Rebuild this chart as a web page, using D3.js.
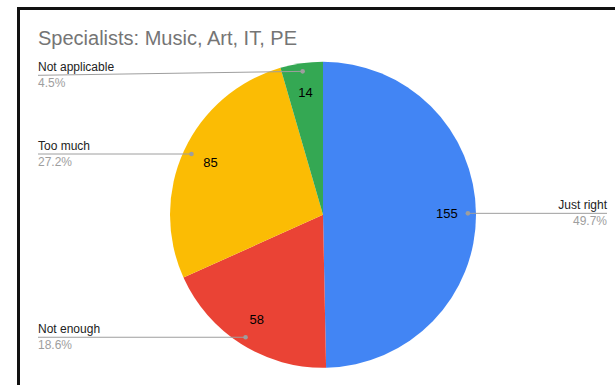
<!DOCTYPE html>
<html>
<head>
<meta charset="utf-8">
<script src="https://cdn.jsdelivr.net/npm/d3@7"></script>
<style>
  html, body { margin: 0; padding: 0; background: #fff; }
  svg { display: block; font-family: Arial, "Liberation Sans", sans-serif; }
</style>
</head>
<body>
<svg id="chart" width="615" height="385"></svg>
<script>
// Survey responses for specialist subjects, in clockwise order from 12 o'clock
const categories = ["Just right", "Not enough", "Too much", "Not applicable"];
const counts = [155, 58, 85, 14];
const sliceColors = ["#4285f4", "#ea4335", "#fbbc04", "#34a853"];
const chartTitle = "Specialists: Music, Art, IT, PE";

const W = 615, H = 385;
const cx = 323, cy = 214.8, R = 153;
const svg = d3.select("#chart");

// Frame around the chart card
svg.append("rect")
  .attr("x", 18.5).attr("y", 8.5)
  .attr("width", W + 20).attr("height", H + 20)
  .attr("fill", "#fff").attr("stroke", "#111").attr("stroke-width", 3);

svg.append("text")
  .attr("x", 38).attr("y", 45)
  .attr("font-size", 20).attr("fill", "#757575")
  .text(chartTitle);

const data = categories.map((c, i) => ({ name: c, value: counts[i], color: sliceColors[i] }));
const total = d3.sum(counts);
const pct = d3.format(".1%");

const pie = d3.pie().value(d => d.value).sort(null).startAngle(0).endAngle(2 * Math.PI);
const arcs = pie(data);
const arc = d3.arc().innerRadius(0).outerRadius(R);
const valueArc = d3.arc().innerRadius(R * 0.81).outerRadius(R * 0.81);
const dotArc = d3.arc().innerRadius(R * 0.947).outerRadius(R * 0.947);

const g = svg.append("g").attr("transform", `translate(${cx},${cy})`);

g.selectAll("path.slice")
  .data(arcs)
  .join("path")
  .attr("class", "slice")
  .attr("d", arc)
  .attr("fill", d => d.data.color);

g.selectAll("text.value")
  .data(arcs)
  .join("text")
  .attr("class", "value")
  .attr("transform", d => `translate(${valueArc.centroid(d)})`)
  .attr("text-anchor", "middle")
  .attr("dy", "0.36em")
  .attr("font-size", 13)
  .attr("fill", "#000")
  .text(d => d.data.value);

// Leader lines and outside labels
const leftX = 38, rightX = 607, minLineY = 75.3;
const labels = svg.append("g");
arcs.forEach(d => {
  const [px, py] = dotArc.centroid(d);
  const dx = cx + px, dy = cy + py;
  const mid = (d.startAngle + d.endAngle) / 2;
  const right = mid < Math.PI;
  const lineY = Math.max(dy, minLineY);
  const endX = right ? rightX : leftX;

  labels.append("line")
    .attr("x1", endX).attr("y1", lineY)
    .attr("x2", dx).attr("y2", dy)
    .attr("stroke", "#9e9e9e").attr("stroke-width", 1);
  labels.append("circle")
    .attr("cx", dx).attr("cy", dy).attr("r", 2.3)
    .attr("fill", "#9e9e9e");
  labels.append("text")
    .attr("x", endX).attr("y", lineY - 4)
    .attr("text-anchor", right ? "end" : "start")
    .attr("font-size", 12).attr("fill", "#222")
    .text(d.data.name);
  labels.append("text")
    .attr("x", endX).attr("y", lineY + 12)
    .attr("text-anchor", right ? "end" : "start")
    .attr("font-size", 12).attr("fill", "#9e9e9e")
    .text(pct(d.data.value / total));
});
</script>
</body>
</html>
